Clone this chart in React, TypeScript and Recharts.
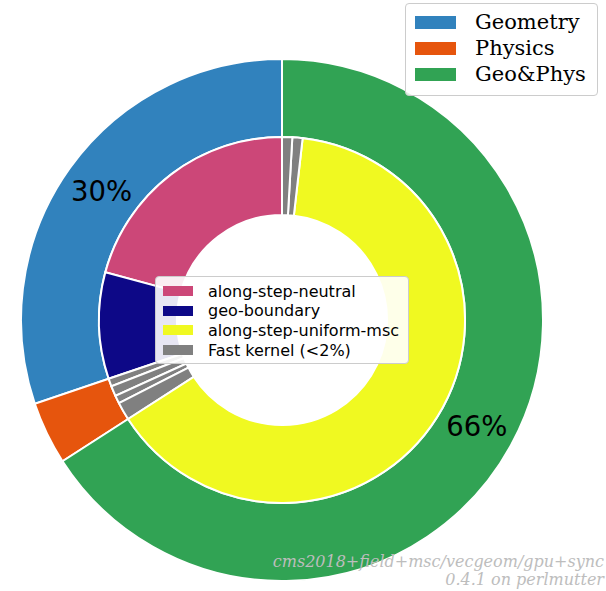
import type { ReactElement } from "react";
import { Cell, Pie, PieChart } from "recharts";

// outer ring: kernel category share (percent)
const OUTER_NAMES = ["Geometry", "Physics", "Geo&Phys"];
const OUTER_VALUES = [30.2, 3.9, 65.9];
const OUTER_COLORS = ["#3182bd", "#e6550d", "#31a354"];
const OUTER_LABELS = ["30%", "", "66%"];

// inner ring: individual kernels
const INNER_NAMES = [
  "along-step-neutral",
  "geo-boundary",
  "fast-a",
  "fast-b",
  "fast-c",
  "fast-d",
  "along-step-uniform-msc",
  "fast-e",
  "fast-f",
];
const INNER_VALUES = [20.8, 9.4, 0.7, 0.9, 0.7, 1.6, 64.1, 0.9, 0.9];
const INNER_COLORS = [
  "#cc4778",
  "#0d0887",
  "#808080",
  "#808080",
  "#808080",
  "#808080",
  "#f0f921",
  "#808080",
  "#808080",
];

const INNER_LEGEND = [
  { label: "along-step-neutral", color: "#cc4778" },
  { label: "geo-boundary", color: "#0d0887" },
  { label: "along-step-uniform-msc", color: "#f0f921" },
  { label: "Fast kernel (<2%)", color: "#808080" },
];

const WATERMARK = ["cms2018+field+msc/vecgeom/gpu+sync", "0.4.1 on perlmutter"];

const outerData = OUTER_NAMES.map((name, i) => ({ name, value: OUTER_VALUES[i], label: OUTER_LABELS[i] }));
const innerData = INNER_NAMES.map((name, i) => ({ name, value: INNER_VALUES[i] }));

const RAD = Math.PI / 180;

function pctLabel(props: any): ReactElement | null {
  const { cx, cy, midAngle, index } = props;
  const text = OUTER_LABELS[index];
  if (!text) return null;
  const r = 222;
  const x = cx + r * Math.cos(-midAngle * RAD);
  const y = cy + r * Math.sin(-midAngle * RAD);
  return (
    <text
      x={x}
      y={y}
      textAnchor="middle"
      dominantBaseline="central"
      fontFamily="DejaVu Sans"
      fontSize={27.5}
      fill="#000"
    >
      {text}
    </text>
  );
}

export default function App(): ReactElement {
  return (
    <div style={{ position: "absolute", left: 0, top: 0, width: 606, height: 591, background: "#fff" }}>
      <PieChart width={606} height={591} margin={{ top: 0, right: 0, bottom: 0, left: 0 }}>
        <Pie
          data={outerData}
          dataKey="value"
          cx={282}
          cy={320}
          innerRadius={183}
          outerRadius={261}
          startAngle={90}
          endAngle={450}
          stroke="#fff"
          strokeWidth={2}
          label={pctLabel}
          labelLine={false}
          isAnimationActive={false}
        >
          {outerData.map((d, i) => (
            <Cell key={d.name} fill={OUTER_COLORS[i]} />
          ))}
        </Pie>
        <Pie
          data={innerData}
          dataKey="value"
          cx={282}
          cy={320}
          innerRadius={105}
          outerRadius={183}
          startAngle={90}
          endAngle={450}
          stroke="#fff"
          strokeWidth={2}
          isAnimationActive={false}
        >
          {innerData.map((d, i) => (
            <Cell key={d.name} fill={INNER_COLORS[i]} />
          ))}
        </Pie>
      </PieChart>

      {/* outer legend */}
      <div
        style={{
          position: "absolute",
          left: 405,
          top: 3,
          width: 191,
          height: 91,
          border: "1px solid #cccccc",
          borderRadius: 4,
          background: "rgba(255,255,255,0.85)",
          fontFamily: "DejaVu Serif",
          fontSize: 21,
          color: "#000",
        }}
      >
        {OUTER_NAMES.map((name, i) => (
          <div key={name} style={{ position: "absolute", left: 9, top: 5 + i * 26, height: 26, display: "flex", alignItems: "center" }}>
            <span style={{ display: "inline-block", width: 41, height: 13, background: OUTER_COLORS[i], marginRight: 19 }} />
            {name}
          </div>
        ))}
      </div>

      {/* inner legend */}
      <div
        style={{
          position: "absolute",
          left: 155,
          top: 276,
          width: 252,
          height: 86,
          border: "1px solid #cccccc",
          borderRadius: 4,
          background: "rgba(255,255,255,0.9)",
          fontFamily: "DejaVu Sans",
          fontSize: 16,
          color: "#000",
        }}
      >
        {INNER_LEGEND.map((e, i) => (
          <div key={e.label} style={{ position: "absolute", left: 7, top: 4 + i * 19.7, height: 20, display: "flex", alignItems: "center", whiteSpace: "nowrap" }}>
            <span style={{ display: "inline-block", width: 30, height: 10, background: e.color, marginRight: 15 }} />
            {e.label}
          </div>
        ))}
      </div>

      {/* watermark */}
      <div
        style={{
          position: "absolute",
          right: 2,
          top: 553,
          textAlign: "right",
          fontFamily: "DejaVu Serif",
          fontStyle: "italic",
          fontSize: 16,
          lineHeight: "18px",
          color: "#bdbdbd",
          whiteSpace: "nowrap",
        }}
      >
        {WATERMARK.map((line) => (
          <div key={line}>{line}</div>
        ))}
      </div>
    </div>
  );
}
